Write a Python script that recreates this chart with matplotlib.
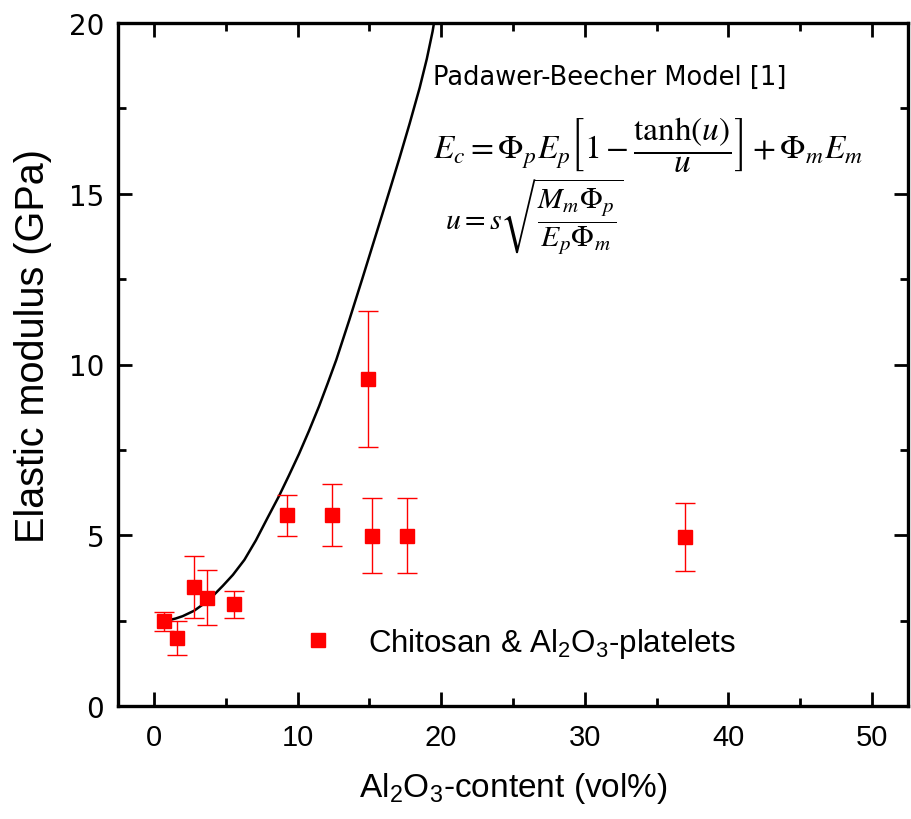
import matplotlib
matplotlib.use('Agg')
import matplotlib.pyplot as plt
from matplotlib.lines import Line2D
from matplotlib.ticker import MultipleLocator

# measured points (Al2O3 vol%, modulus GPa, error)
vol = [0.7, 1.6, 2.8, 3.7, 5.6, 9.3, 12.4, 14.9, 15.2, 17.6, 37.0]
modulus = [2.48, 1.99, 3.49, 3.17, 2.98, 5.59, 5.59, 9.58, 4.99, 4.99, 4.94]
err = [0.28, 0.5, 0.9, 0.8, 0.4, 0.6, 0.9, 2.0, 1.1, 1.1, 1.0]

# Padawer-Beecher model curve
model_x = [0.4, 1.0, 1.5, 2.0, 2.8, 3.5, 4.1, 4.8, 5.5, 6.3, 7.1, 7.9, 8.7, 9.4,
           10.1, 10.8, 11.5, 12.1, 12.7, 13.6, 14.5, 15.2, 15.9, 16.5, 17.1,
           17.8, 18.5, 19.0, 19.4, 19.5]
model_y = [2.48, 2.51, 2.56, 2.63, 2.79, 3.0, 3.22, 3.52, 3.84, 4.28, 4.85, 5.5,
           6.14, 6.75, 7.38, 8.06, 8.78, 9.45, 10.14, 11.3, 12.5, 13.45, 14.4,
           15.22, 16.05, 17.05, 18.1, 18.95, 19.75, 20.0]

plt.rcParams['font.family'] = ['Liberation Sans', 'DejaVu Sans']

fig = plt.figure(figsize=(9.11, 8.2), dpi=100)
ax = fig.add_axes([118 / 911, 113 / 820, 790 / 911, 683 / 820])

ax.plot(model_x, model_y, color='black', lw=1.8, zorder=2, solid_joinstyle='round')
ax.errorbar(vol, modulus, yerr=err, fmt='s', color='#ff0000', ecolor='#ff0000',
            ms=10, elinewidth=1.0, capsize=7.5, capthick=1.0, zorder=3)

ax.set_xlim(-2.5, 52.5)
ax.set_ylim(0, 20)
ax.xaxis.set_major_locator(MultipleLocator(10))
ax.xaxis.set_minor_locator(MultipleLocator(5))
ax.yaxis.set_major_locator(MultipleLocator(5))
ax.yaxis.set_minor_locator(MultipleLocator(2.5))
ax.tick_params(which='both', direction='in', top=True, right=True, width=2)
ax.tick_params(which='major', length=10)
ax.tick_params(which='minor', length=6)
ax.tick_params(axis='x', labelsize=21, pad=12)
ax.tick_params(axis='y', labelsize=20, pad=10)
for lab in ax.get_yticklabels():
    lab.set_fontfamily('DejaVu Sans')
for sp in ax.spines.values():
    sp.set_linewidth(2.4)

ax.set_xlabel('Al$_\\mathregular{2}$O$_\\mathregular{3}$-content (vol%)', fontsize=24, labelpad=14)
ax.set_ylabel('Elastic modulus (GPa)', fontsize=28.5, labelpad=8)
ax.yaxis.set_label_coords(-0.083, 0.528)

handle = Line2D([], [], ls='none', marker='s', ms=10, color='#ff0000')
ax.legend([handle], ['Chitosan & Al$_\\mathregular{2}$O$_\\mathregular{3}$-platelets'],
          loc='center left', bbox_to_anchor=(0.234, 0.092), frameon=False,
          fontsize=22.5, handlelength=1.0, handletextpad=1.1,
          borderpad=0, borderaxespad=0)

fig.text(433 / 911, 1 - 78 / 820, 'Padawer-Beecher Model [1]', fontsize=18.5,
         family='DejaVu Sans', va='center', ha='left')
fig.text(433 / 911, 1 - 145 / 820,
         r'$E_c = \Phi_p E_p \left[1 - \dfrac{\tanh(u)}{u}\right] + \Phi_m E_m$',
         fontsize=24, math_fontfamily='stix', va='center', ha='left')
fig.text(445 / 911, 1 - 216 / 820,
         r'$u = s\sqrt{\dfrac{M_m \Phi_p}{E_p \Phi_m}}$',
         fontsize=21.5, math_fontfamily='stix', va='center', ha='left')

fig.savefig('out.png', dpi=100, facecolor='white')
